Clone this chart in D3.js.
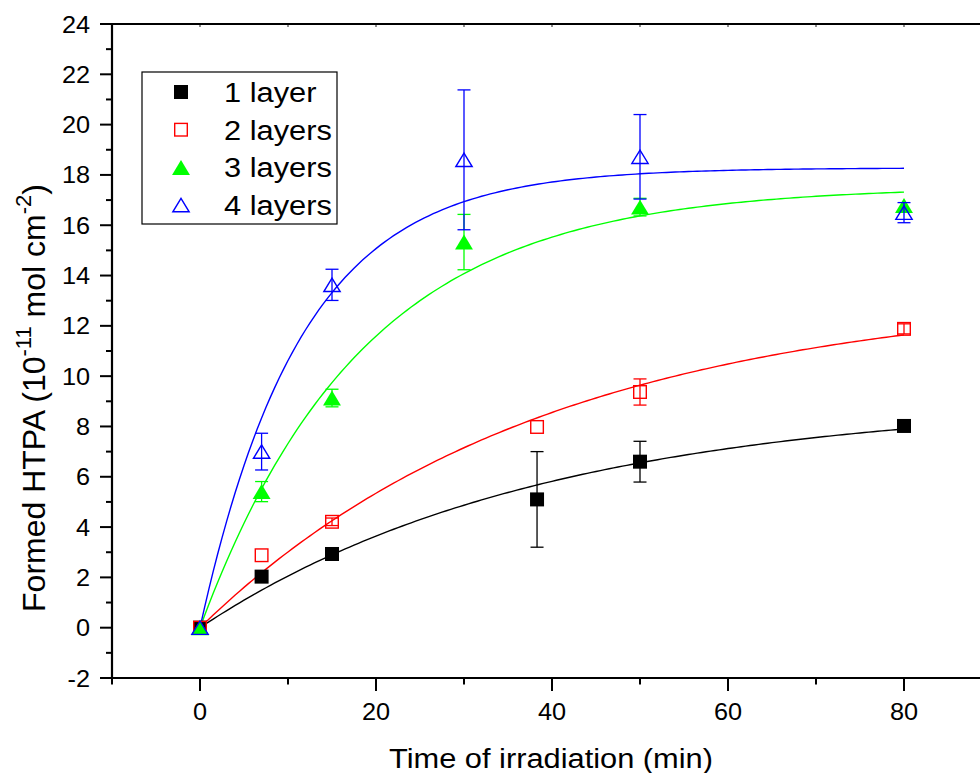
<!DOCTYPE html>
<html>
<head>
<meta charset="utf-8">
<script src="https://cdn.jsdelivr.net/npm/d3@7"></script>
<style>
  html, body { margin: 0; padding: 0; background: #fff; }
  svg { display: block; font-family: "Liberation Sans", Arial, Helvetica, sans-serif; }
</style>
</head>
<body>
<svg id="chart" width="980" height="773"></svg>
<script>
// Irradiation times (min): 1 and 2 layers were sampled at 38.3 min, 3 and 4 layers at 30 min
const timesA = [0, 7, 15, 38.3, 50, 80];
const timesB = [0, 7, 15, 30, 50, 80];

// Formed HTPA (10^-11 mol cm^-2) and standard deviations
const htpa1 = [0, 2.03, 2.93, 5.1, 6.6, 8.02];
const err1  = [0, 0, 0, 1.9, 0.81, 0];
const htpa2 = [0, 2.88, 4.21, 7.98, 9.37, 11.88];
const err2  = [0, 0, 0.15, 0, 0.52, 0.2];
const htpa3 = [0, 5.41, 9.13, 15.33, 16.72, 16.78];
const err3  = [0, 0.4, 0.35, 1.1, 0.35, 0];
const htpa4 = [0, 7.0, 13.63, 18.6, 18.72, 16.5];
const err4  = [0, 0.73, 0.62, 2.78, 1.68, 0.4];

// First-order kinetic fits: y = A (1 - exp(-k t))
const fitA = [9.06, 13.38, 17.55, 18.28];
const fitK = [0.0257, 0.0255, 0.054, 0.087];

const seriesNames = ["1 layer", "2 layers", "3 layers", "4 layers"];
const seriesColors = ["#000000", "#ff0000", "#00ff00", "#0000ff"];
const seriesShapes = ["square", "square", "triangle", "triangle"];
const seriesFilled = [true, false, true, false];

const xTicks = [0, 20, 40, 60, 80];
const yTicks = [-2, 0, 2, 4, 6, 8, 10, 12, 14, 16, 18, 20, 22, 24];

const xTitle = "Time of irradiation (min)";

// ---- layout ----
const svg = d3.select("#chart");
const leftX = 112, topY = 24, bottomY = 678;
const x = d3.scaleLinear().domain([-10, 80]).range([leftX, 904]);
const y = d3.scaleLinear().domain([-2, 24]).range([bottomY, topY]);
const xMax = 91;
const stretch = 1.1; // text is set slightly wide

const series = [
  { t: timesA, v: htpa1, e: err1 },
  { t: timesA, v: htpa2, e: err2 },
  { t: timesB, v: htpa3, e: err3 },
  { t: timesB, v: htpa4, e: err4 }
].map((s, i) => ({
  ...s,
  name: seriesNames[i], color: seriesColors[i],
  shape: seriesShapes[i], filled: seriesFilled[i],
  A: fitA[i], k: fitK[i]
}));

// ---- axes ----
const axisG = svg.append("g");
const minorX = d3.range(-10, xMax + 0.01, 10);
const minorY = d3.range(-2, 24.01, 1);

// bottom axis ticks
axisG.selectAll(".xt").data(minorX).join("line")
  .attr("x1", d => x(d)).attr("x2", d => x(d))
  .attr("y1", bottomY).attr("y2", d => bottomY + (xTicks.includes(d) ? 13 : 6.5))
  .attr("stroke", "#000").attr("stroke-width", 2);
// top axis ticks (short, inward)
axisG.selectAll(".xtt").data(minorX).join("line")
  .attr("x1", d => x(d)).attr("x2", d => x(d))
  .attr("y1", topY).attr("y2", topY + 3)
  .attr("stroke", "#666").attr("stroke-width", 1.5);
// left axis ticks
axisG.selectAll(".yt").data(minorY).join("line")
  .attr("y1", d => y(d)).attr("y2", d => y(d))
  .attr("x1", leftX).attr("x2", d => leftX - (yTicks.includes(d) ? 12 : 6))
  .attr("stroke", "#000").attr("stroke-width", 2);

// frame lines
axisG.append("line").attr("x1", leftX).attr("x2", x(xMax)).attr("y1", bottomY).attr("y2", bottomY)
  .attr("stroke", "#000").attr("stroke-width", 2.2);
axisG.append("line").attr("x1", leftX).attr("x2", x(xMax)).attr("y1", topY).attr("y2", topY)
  .attr("stroke", "#000").attr("stroke-width", 2.2);
axisG.append("line").attr("x1", leftX).attr("x2", leftX).attr("y1", topY - 1).attr("y2", bottomY + 1)
  .attr("stroke", "#000").attr("stroke-width", 2.2);

// tick labels
axisG.selectAll(".xl").data(xTicks).join("text")
  .attr("transform", d => `translate(${x(d)},720) scale(${stretch},1)`)
  .attr("text-anchor", "middle").attr("font-size", 23)
  .text(d => String(d));
axisG.selectAll(".yl").data(yTicks).join("text")
  .attr("transform", d => `translate(90,${y(d) + 8.5}) scale(${stretch},1)`)
  .attr("text-anchor", "end").attr("font-size", 23)
  .text(d => String(d));

// axis titles
svg.append("text").attr("transform", `translate(551,768) scale(${stretch},1)`)
  .attr("text-anchor", "middle").attr("font-size", 28).text(xTitle);

const yl = svg.append("text")
  .attr("transform", "translate(45,398) rotate(-90)")
  .attr("text-anchor", "middle").attr("font-size", 32);
yl.append("tspan").text("Formed HTPA (10");
yl.append("tspan").attr("dy", -14).attr("font-size", 22).text("-11");
yl.append("tspan").attr("dy", 14).text("  mol cm");
yl.append("tspan").attr("dy", -14).attr("font-size", 22).text("-2");
yl.append("tspan").attr("dy", 14).text(")");

// ---- plot content ----
const plot = svg.append("g");

const curve = d3.line().x(d => x(d[0])).y(d => y(d[1]));
series.forEach(s => {
  const pts = d3.range(0, 80.01, 0.5).map(t => [t, s.A * (1 - Math.exp(-s.k * t))]);
  plot.append("path").attr("d", curve(pts))
    .attr("fill", "none").attr("stroke", s.color).attr("stroke-width", 1.4);
});

function drawMarker(g, cx, cy, s, size) {
  if (s.shape === "square") {
    const h = size / 2;
    g.append("rect")
      .attr("x", cx - h + (s.filled ? 0 : 0.7)).attr("y", cy - h + (s.filled ? 0 : 0.7))
      .attr("width", s.filled ? size : size - 1.4).attr("height", s.filled ? size : size - 1.4)
      .attr("fill", s.filled ? s.color : "none")
      .attr("stroke", s.filled ? "none" : s.color).attr("stroke-width", 1.4);
  } else {
    const w = size * 1.28, h = size * 1.07;
    const inset = s.filled ? 0 : 0.8;
    const p = [
      [cx, cy - h / 2 + inset],
      [cx + w / 2 - inset, cy + h / 2 - inset],
      [cx - w / 2 + inset, cy + h / 2 - inset]
    ];
    g.append("path").attr("d", "M" + p.map(q => q.join(",")).join("L") + "Z")
      .attr("fill", s.filled ? s.color : "none")
      .attr("stroke", s.filled ? "none" : s.color).attr("stroke-width", 1.4);
  }
}

series.forEach(s => {
  const g = plot.append("g");
  s.t.forEach((t, i) => {
    const e = s.e[i];
    if (e > 0) {
      const cx = x(t), y1 = y(s.v[i] + e), y2 = y(s.v[i] - e);
      g.append("line").attr("x1", cx).attr("x2", cx).attr("y1", y1).attr("y2", y2)
        .attr("stroke", s.color).attr("stroke-width", 1.3);
      [y1, y2].forEach(yy => g.append("line")
        .attr("x1", cx - 6.5).attr("x2", cx + 6.5).attr("y1", yy).attr("y2", yy)
        .attr("stroke", s.color).attr("stroke-width", 1.3));
    }
  });
  s.t.forEach((t, i) => drawMarker(g, x(t), y(s.v[i]), s, 14));
});

// ---- legend ----
const leg = svg.append("g");
leg.append("rect").attr("x", 142).attr("y", 72).attr("width", 195).attr("height", 152)
  .attr("fill", "#fff").attr("stroke", "#000").attr("stroke-width", 1.2);
series.forEach((s, i) => {
  const cy = 92 + i * 37.7;
  drawMarker(leg, 181, cy, s, 14);
  leg.append("text").attr("transform", `translate(224,${cy + 10}) scale(${stretch},1)`)
    .attr("font-size", 28).text(s.name);
});
</script>
</body>
</html>
